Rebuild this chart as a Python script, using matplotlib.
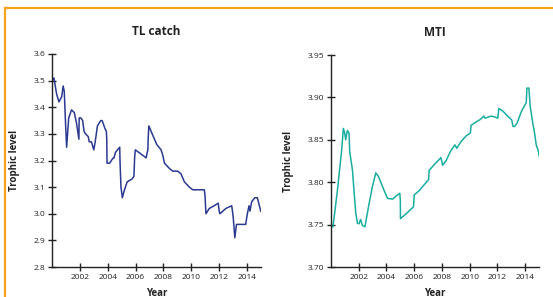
import matplotlib
matplotlib.use("Agg")
import matplotlib.pyplot as plt
from matplotlib.lines import Line2D

plt.rcParams['font.family'] = ['Open Sans', 'DejaVu Sans']

# TL catch series (year, trophic level)
tl_years = [2000.02, 2000.14, 2000.33, 2000.5, 2000.7, 2000.8, 2000.88, 2000.98, 2001.05,
            2001.2, 2001.4, 2001.6, 2001.76, 2001.93, 2001.95, 2002.07, 2002.2, 2002.3,
            2002.4, 2002.6, 2002.67, 2002.83, 2003.0, 2003.1, 2003.26, 2003.5, 2003.6,
            2003.8, 2003.9, 2003.93, 2003.95, 2004.14, 2004.26, 2004.4, 2004.45, 2004.55,
            2004.7, 2004.86, 2004.88, 2004.95, 2005.05, 2005.2, 2005.4, 2005.73, 2005.88,
            2005.93, 2005.98, 2006.76, 2006.83, 2006.88, 2006.9, 2006.95, 2007.19, 2007.52,
            2007.83, 2007.95, 2008.07, 2008.43, 2008.67, 2009.02, 2009.26, 2009.5, 2009.86,
            2010.1, 2010.45, 2010.8, 2010.93, 2010.98, 2011.05, 2011.29, 2011.64, 2011.93,
            2012.0, 2012.05, 2012.48, 2012.9, 2013.0, 2013.07, 2013.12, 2013.24, 2013.43,
            2013.67, 2013.9, 2014.02, 2014.14, 2014.21, 2014.33, 2014.55, 2014.74, 2014.98]
tl_values = [3.50, 3.51, 3.45, 3.42, 3.44, 3.48, 3.46, 3.33, 3.25,
             3.36, 3.39, 3.38, 3.34, 3.28, 3.36, 3.36, 3.35, 3.31,
             3.30, 3.29, 3.27, 3.27, 3.24, 3.27, 3.33, 3.35, 3.35,
             3.32, 3.31, 3.28, 3.19, 3.19, 3.20, 3.21, 3.21, 3.23,
             3.24, 3.25, 3.20, 3.10, 3.06, 3.09, 3.12, 3.13, 3.14,
             3.21, 3.24, 3.21, 3.23, 3.24, 3.28, 3.33, 3.30, 3.26,
             3.24, 3.22, 3.19, 3.17, 3.16, 3.16, 3.15, 3.12, 3.10,
             3.09, 3.09, 3.09, 3.09, 3.07, 3.00, 3.02, 3.03, 3.04,
             3.01, 3.00, 3.02, 3.03, 2.99, 2.945, 2.91, 2.96, 2.96,
             2.96, 2.96, 3.00, 3.03, 3.01, 3.045, 3.06, 3.06, 3.01]

# MTI series (year, trophic level)
mti_years = [2000.14, 2000.2, 2000.46, 2000.77, 2000.89, 2000.99, 2001.06, 2001.18, 2001.3,
             2001.35, 2001.55, 2001.66, 2001.79, 2001.91, 2002.02, 2002.14, 2002.26, 2002.45,
             2002.55, 2002.75, 2002.99, 2003.23, 2003.43, 2003.71, 2004.07, 2004.43, 2004.8,
             2004.96, 2005.0, 2005.01, 2005.4, 2005.76, 2005.95, 2006.0, 2006.36, 2006.72,
             2007.04, 2007.08, 2007.52, 2007.93, 2008.05, 2008.29, 2008.6, 2008.94, 2009.07,
             2009.38, 2009.74, 2010.05, 2010.1, 2010.46, 2010.77, 2011.02, 2011.11, 2011.55,
             2011.79, 2012.03, 2012.1, 2012.39, 2012.56, 2012.8, 2012.94, 2013.04, 2013.12,
             2013.23, 2013.43, 2013.72, 2014.08, 2014.13, 2014.27, 2014.37, 2014.56, 2014.68,
             2014.8, 2014.97, 2015.0]
mti_values = [3.7475, 3.755, 3.79, 3.838, 3.8635, 3.858, 3.85, 3.861, 3.858,
              3.836, 3.814, 3.79, 3.763, 3.7515, 3.751, 3.756, 3.749, 3.7475,
              3.757, 3.775, 3.795, 3.811, 3.8065, 3.795, 3.781, 3.780, 3.785,
              3.787, 3.779, 3.757, 3.7625, 3.768, 3.771, 3.785, 3.790, 3.797,
              3.803, 3.814, 3.822, 3.829, 3.820, 3.825, 3.836, 3.844, 3.840,
              3.848, 3.8545, 3.858, 3.867, 3.871, 3.874, 3.878, 3.8755, 3.878,
              3.877, 3.8755, 3.887, 3.884, 3.881, 3.877, 3.875, 3.873, 3.866,
              3.8655, 3.870, 3.883, 3.894, 3.911, 3.911, 3.889, 3.869, 3.858,
              3.844, 3.836, 3.831]

year_ticks = [2002, 2004, 2006, 2008, 2010, 2012, 2014]
tl_ticks = [2.8, 2.9, 3.0, 3.1, 3.2, 3.3, 3.4, 3.5, 3.6]
mti_ticks = [3.70, 3.75, 3.80, 3.85, 3.90, 3.95]

W, H = 553, 297
fig = plt.figure(figsize=(W / 100, H / 100), dpi=100)

def px_axes(x0, x1, ytop, ybot):
    return fig.add_axes([x0 / W, 1 - ybot / H, (x1 - x0) / W, (ybot - ytop) / H])

ax1 = px_axes(52, 261, 54, 267)
ax2 = px_axes(331, 539, 55, 267)

def style(ax, title, yticks, fmt, ylab_x):
    ax.set_xlim(2000, 2015)
    ax.set_ylim(yticks[0], yticks[-1])
    ax.set_xticks(year_ticks)
    ax.set_xticklabels([str(y) for y in year_ticks])
    ax.set_yticks(yticks)
    ax.set_yticklabels([fmt % v for v in yticks])
    for s in ['top', 'right']:
        ax.spines[s].set_visible(False)
    for s in ['left', 'bottom']:
        ax.spines[s].set_linewidth(1.0)
        ax.spines[s].set_color('#222222')
    ax.tick_params(direction='inout', length=6, width=1.0, labelsize=6,
                   colors='#222222', pad=2)
    ax.set_title(title, fontsize=8.5, fontweight='bold', pad=14, color='#222222')
    ax.set_ylabel('Trophic level', fontsize=7, fontweight='bold', color='#222222')
    ax.yaxis.set_label_coords(ylab_x, 0.5)
    ax.set_xlabel('Year', fontsize=7, fontweight='bold', color='#222222')
    ax.xaxis.set_label_coords(0.5, -0.10)

ax1.plot(tl_years, tl_values, color='#2B3990', lw=1.1)
ax2.plot(mti_years, mti_values, color='#1AADA0', lw=1.1)

style(ax1, 'TL catch', tl_ticks, '%.1f', (20 - 52) / 209)
style(ax2, 'MTI', mti_ticks, '%.2f', (294 - 331) / 208)

# orange frame (top and left edges)
fig.add_artist(Line2D([5 / W, 1.0], [1 - 8 / H, 1 - 8 / H], transform=fig.transFigure,
                      color='#F7A21B', lw=1.6))
fig.add_artist(Line2D([5 / W, 5 / W], [0.0, 1 - 8 / H], transform=fig.transFigure,
                      color='#F7A21B', lw=1.6))

fig.savefig('out.png', dpi=100)
